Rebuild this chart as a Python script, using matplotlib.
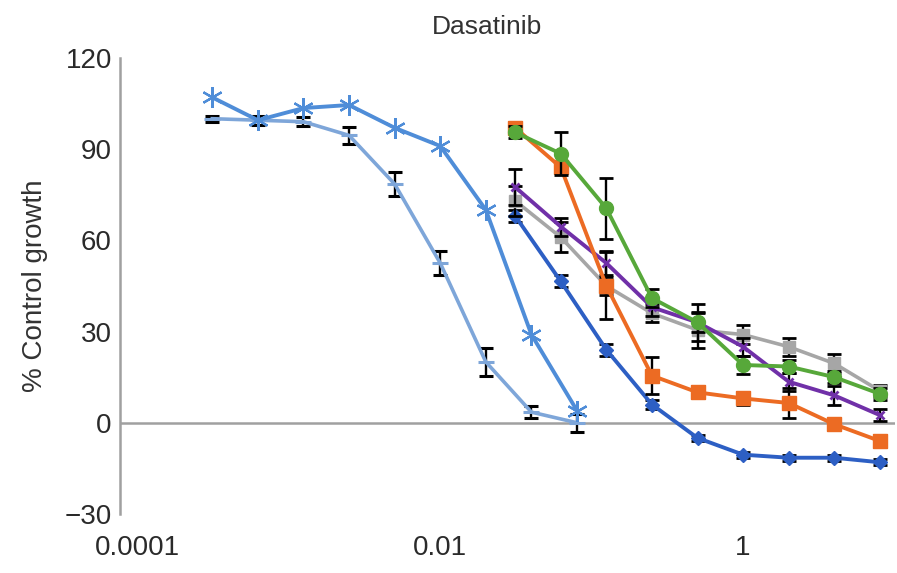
import matplotlib
matplotlib.use("Agg")
import matplotlib.pyplot as plt

plt.rcParams['font.family'] = ['Liberation Sans', 'DejaVu Sans']

# concentrations (uM), two dilution series
conc_low = [0.0003125, 0.000625, 0.00125, 0.0025, 0.005, 0.01, 0.02, 0.04, 0.08]
conc_high = [0.03125, 0.0625, 0.125, 0.25, 0.5, 1, 2, 4, 8]

# % control growth
light_vals = [100, 99.5, 99, 94.5, 78.5, 52.5, 20, 3.5, 0]
light_err = [1, 1.5, 1.5, 2.7, 4, 4, 4.5, 2, 3]
star_vals = [107, 99.5, 103.5, 104.5, 97, 91, 70, 29, 4]

diamond_vals = [68, 46.5, 24, 6, -5, -10.5, -11.5, -11.5, -13]
diamond_err = [2, 2, 2, 1.5, 1, 1, 1, 1, 1]
gray_vals = [73, 61, 45, 36, 30.5, 29, 25, 19.5, 10.5]
gray_err = [5, 5, 11, 3, 6, 3, 3, 3, 2]
purple_vals = [77.5, 64.5, 52.5, 38, 33, 25, 13.5, 9, 2.5]
purple_err = [6, 3, 4, 3, 3, 3, 3, 3, 2]
orange_vals = [97, 84, 45, 15.5, 10, 8, 6.5, -0.5, -6]
orange_err = [2, 2, 3, 6, 2, 2, 5, 2, 2]
green_vals = [95.5, 88.5, 70.5, 41, 33, 19, 18.5, 15, 9.5]
green_err = [2, 7, 10, 3, 6, 3, 2, 2, 2]

xticks = [0.0001, 0.01, 1]
xticklabels = ['0.0001', '0.01', '1']
yticks = [-30, 0, 30, 60, 90, 120]

fig = plt.figure(figsize=(8.97, 5.73), dpi=100)
ax = fig.add_axes([0.134, 0.103, 0.864, 0.796])

ebkw = dict(ecolor='black', elinewidth=1.7, capsize=5, capthick=2)

ax.errorbar(conc_low, light_vals, yerr=light_err, color='#7ea6d9', lw=2.6,
            marker='_', ms=12, mew=2.2, zorder=3, **ebkw)
ax.plot(conc_low, star_vals, color='#4f8dd8', lw=2.8, marker=(6, 2, 0),
        ms=15, mew=1.6, zorder=4)

ax.errorbar(conc_high, diamond_vals, yerr=diamond_err, color='#2d5fc4', lw=2.8,
            marker='D', ms=7.5, zorder=5, **ebkw)
ax.errorbar(conc_high, gray_vals, yerr=gray_err, color='#a6a6a6', lw=2.6,
            marker='s', ms=9, zorder=6, **ebkw)
ax.errorbar(conc_high, purple_vals, yerr=purple_err, color='#7030a8', lw=2.8,
            marker='x', ms=6, mew=2, zorder=7, **ebkw)
ax.errorbar(conc_high, orange_vals, yerr=orange_err, color='#ec6b23', lw=2.8,
            marker='s', ms=10, zorder=8, **ebkw)
ax.errorbar(conc_high, green_vals, yerr=green_err, color='#57a83a', lw=2.8,
            marker='o', ms=10, zorder=9, **ebkw)

ax.axhline(0, color='#a0a0a0', lw=1.8, zorder=1)

ax.set_xscale('log')
ax.set_xlim(7.7e-5, 10.1)
ax.set_ylim(-30, 120)
ax.set_xticks(xticks)
ax.set_xticklabels(xticklabels)
ax.minorticks_off()
ax.set_yticks(yticks)
ax.set_yticklabels(['\u221230', '0', '30', '60', '90', '120'])

for s in ['top', 'right', 'bottom']:
    ax.spines[s].set_visible(False)
ax.spines['left'].set_color('#a0a0a0')
ax.spines['left'].set_linewidth(1.8)
ax.tick_params(axis='both', length=0, labelsize=20, colors='#2a2a2a')
ax.tick_params(axis='y', pad=6)
ax.tick_params(axis='x', pad=15)

ax.set_ylabel('% Control growth', fontsize=20, color='#333333', labelpad=12)
fig.text(0.543, 0.953, 'Dasatinib', ha='center', va='center',
         fontsize=19, color='#333333')

fig.savefig('out.png', dpi=100, facecolor='white')
